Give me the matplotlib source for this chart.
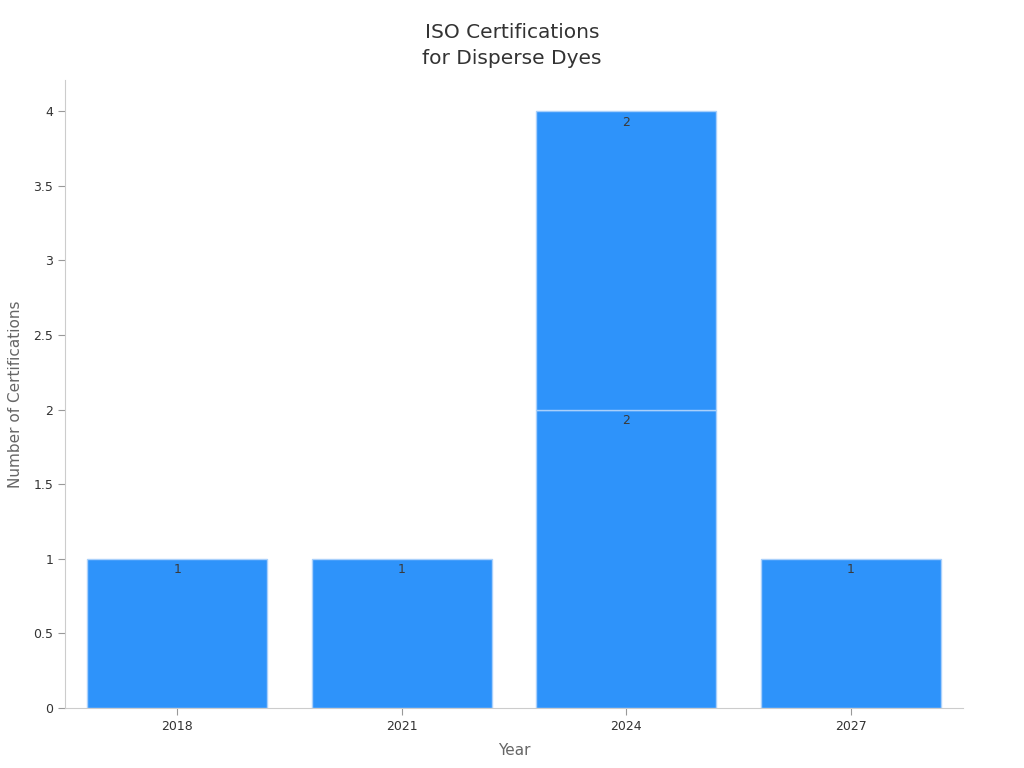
import numpy as np
import matplotlib.pyplot as plt

years = ["2018", "2021", "2024", "2027"]
# stacked segments: first and second series
seg_a = [1, 1, 2, 1]
seg_b = [0, 0, 2, 0]

fig = plt.figure(figsize=(10.24, 7.68), dpi=100)
ax = fig.add_axes([0.0635, 0.078, 0.877, 0.818])

x = np.arange(len(years))
bar_color = "#2E93FA"
edge = "#a9d0fb"

b1 = ax.bar(x, seg_a, width=0.8, color=bar_color, edgecolor=edge, linewidth=1)
mask = np.array(seg_b) > 0
b2 = ax.bar(x[mask], np.array(seg_b)[mask], width=0.8, bottom=np.array(seg_a)[mask],
            color=bar_color, edgecolor=edge, linewidth=1)

for rect, v in zip(b1, seg_a):
    ax.text(rect.get_x() + rect.get_width() / 2, rect.get_height() - 0.03, str(v),
            ha="center", va="top", fontsize=9, color="#3a3a3a")
for rect, v in zip(b2, np.array(seg_b)[mask]):
    top = rect.get_y() + rect.get_height()
    ax.text(rect.get_x() + rect.get_width() / 2, top - 0.03, str(v),
            ha="center", va="top", fontsize=9, color="#3a3a3a")

ax.set_xlim(-0.5, 3.5)
ax.set_ylim(0, 4.21)
ax.set_xticks(x)
ax.set_xticklabels(years)
ax.set_yticks([0, 0.5, 1, 1.5, 2, 2.5, 3, 3.5, 4])
ax.set_yticklabels(["0", "0.5", "1", "1.5", "2", "2.5", "3", "3.5", "4"])
ax.tick_params(axis="both", labelsize=9, colors="#333333", length=5)
ax.tick_params(axis="both", color="#999999")

for s in ["top", "right"]:
    ax.spines[s].set_visible(False)
for s in ["left", "bottom"]:
    ax.spines[s].set_color("#cccccc")

ax.set_xlabel("Year", fontsize=11, color="#666666", labelpad=7)
ax.set_ylabel("Number of Certifications", fontsize=11, color="#666666", labelpad=7)
fig.text(0.5, 0.941, "ISO Certifications\nfor Disperse Dyes", ha="center", va="center",
         fontsize=14.5, color="#333333", linespacing=1.45)

fig.savefig("out.png", dpi=100)
